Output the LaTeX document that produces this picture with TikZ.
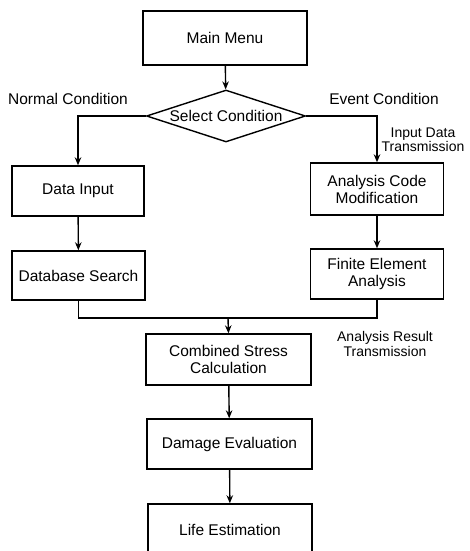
\documentclass[tikz,border=0pt]{standalone}
\usepackage{fontspec}
\setmainfont{Liberation Sans}
\usetikzlibrary{shapes.geometric,arrows.meta}
\begin{document}
\begin{tikzpicture}[x=1pt,y=-1pt,
  every node/.style={font=\fontsize{15.5}{17}\selectfont},
  box/.style={draw,line width=1.4pt,inner sep=0pt,align=center},
  lbl/.style={align=center,inner sep=0pt},
  slbl/.style={align=center,inner sep=0pt,font=\fontsize{14}{14.5}\selectfont},
  conn/.style={line width=1.4pt},
  arr/.style={conn,-{Stealth[length=8pt,width=6.5pt]}}]
\useasboundingbox (0,0) rectangle (470,551);
\clip (0,0) rectangle (470,551);
\node[box,minimum width=164pt,minimum height=54pt] (menu) at (225,38) {Main Menu};
\node[box,shape=diamond,aspect=3,minimum width=159pt,minimum height=52pt] (sel) at (226,116) {Select Condition};
\node[box,minimum width=132pt,minimum height=50pt] (din) at (78,191) {Data Input};
\node[box,minimum width=133pt,minimum height=49pt] (dbs) at (78.5,275.5) {Database Search};
\node[box,minimum width=133pt,minimum height=52pt] (acm) at (377,189) {Analysis Code\\Modification};
\node[box,minimum width=133pt,minimum height=50pt] (fea) at (377,274) {Finite Element\\Analysis};
\node[box,minimum width=165pt,minimum height=51pt] (css) at (228.5,359.5) {Combined Stress\\Calculation};
\node[box,minimum width=165pt,minimum height=50pt] (dam) at (229.5,444) {Damage Evaluation};
\node[box,minimum width=164pt,minimum height=52pt] (life) at (230,530) {Life Estimation};
\node[lbl] (nc) at (68,99) {Normal Condition};
\node[lbl] (ec) at (384,99) {Event Condition};
\node[slbl] (idt) at (423,140) {Input Data\\Transmission};
\node[slbl] (art) at (385,344) {Analysis Result\\Transmission};
\coordinate (mj) at (228,318);
\draw[arr] (menu) -- (sel);
\draw[arr] (sel.west) -| (din.north);
\draw[arr] (sel.east) -| (acm.north);
\draw[arr] (din) -- (dbs);
\draw[arr] (acm) -- (fea);
\draw[conn] (dbs.south) |- (mj) -| (fea.south);
\draw[arr] (mj) -- (css.north);
\draw[arr] (css) -- (dam);
\draw[arr] (dam) -- (life);
\end{tikzpicture}
\end{document}
